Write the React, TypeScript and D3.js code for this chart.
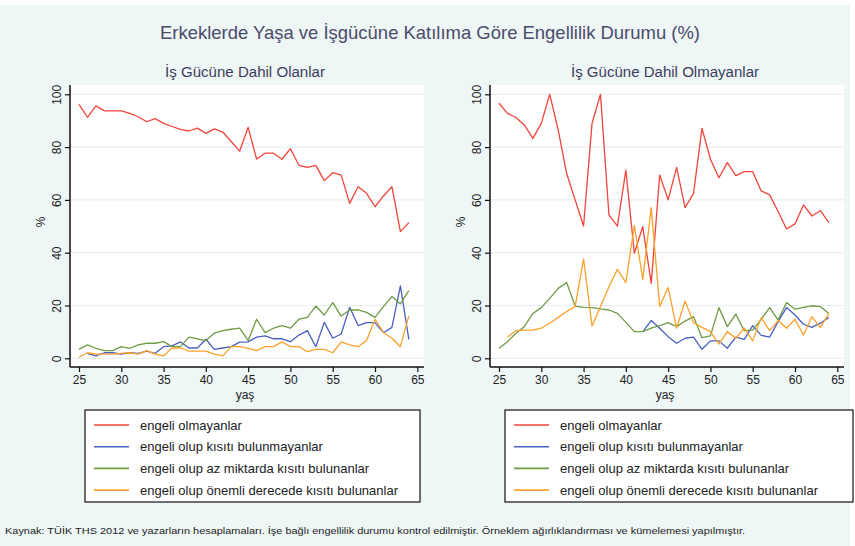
import React, { useEffect, useRef } from 'react';
import * as d3 from 'd3';

const ages = [25, 26, 27, 28, 29, 30, 31, 32, 33, 34, 35, 36, 37, 38, 39, 40, 41, 42, 43, 44,
  45, 46, 47, 48, 49, 50, 51, 52, 53, 54, 55, 56, 57, 58, 59, 60, 61, 62, 63, 64];

const xTicks = [25, 30, 35, 40, 45, 50, 55, 60, 65];
const yTicks = [0, 20, 40, 60, 80, 100];

const seriesLabels = [
  'engeli olmayanlar',
  'engeli olup kısıtı bulunmayanlar',
  'engeli olup az miktarda kısıtı bulunanlar',
  'engeli olup önemli derecede kısıtı bulunanlar'
];
const seriesColors = ['#f2443a', '#4a5fc1', '#6f9c45', '#f9a22b'];

// İş gücüne dahil olanlar
const leftNone = [96.2, 91.3, 95.6, 93.7, 93.7, 93.7, 92.8, 91.5, 89.6, 90.8, 89, 87.8, 86.7, 86.1, 87.2, 85.2,
  86.9, 85.7, 82.1, 78.5, 87.5, 75.5, 77.7, 77.7, 75.4, 79.4, 73.1, 72.3, 73.1, 67.3, 70.3, 69.4, 58.7, 65,
  62.5, 57.4, 61.5, 65, 48, 51.4];
const leftNoLimit = [null, 1.9, 0.9, 2.1, 2.1, 1.6, 2.1, 1.9, 2.7, 1.9, 4.4, 4.7, 6.2, 3.9, 3.9, 7.2, 3.4, 3.9,
  4.4, 6.1, 6.2, 8, 8.5, 7.4, 7.4, 6.3, 8.8, 10.5, 4.4, 13.6, 7.6, 9.2, 19.3, 12.4, 13.5, 13.5, 9.7, 11.7,
  27.4, 7.2];
const leftMild = [3.4, 5.1, 3.8, 2.9, 2.9, 4.4, 3.8, 5.1, 5.7, 5.7, 6.3, 4.4, 4.4, 8, 7.4, 6.7, 9.5, 10.5, 11,
  11.4, 6.7, 14.8, 9.7, 11.4, 12.4, 11.4, 14.8, 15.5, 19.8, 16.4, 21.1, 16, 18.3, 18.3, 17.4, 15.5, 19.6,
  23.4, 20.6, 25.6];
const leftSevere = [0.4, 2.1, 1.6, 1.6, 1.6, 1.9, 2.1, 1.6, 2.9, 1.6, 0.9, 3.9, 3.9, 2.7, 2.7, 2.7, 1.6, 0.9,
  4.4, 4.4, 3.8, 2.9, 4.4, 4.4, 6.2, 4.4, 4.4, 2.5, 3.4, 3.4, 2.1, 6.2, 5.1, 4.4, 6.7, 14.8, 9.8, 7.6, 4.4, 16];

// İş gücüne dahil olmayanlar
const rightNone = [96.6, 92.8, 91.2, 88.4, 83.3, 89, 100, 86.5, 70, 60, 50.1, 89, 100, 54.3, 50.1, 71.3, 39.8,
  49.9, 28.4, 69.4, 60, 72.3, 57.1, 62.5, 87.1, 75.4, 68.4, 74.1, 69.2, 70.7, 70.7, 63.4, 61.9, 55.6, 49,
  50.9, 58.1, 53.9, 55.9, 51.4];
const rightNoLimit = [null, null, null, null, null, null, null, null, null, null, null, null, null, null, null,
  null, null, 10.1, 14.3, 11.4, 8.2, 5.7, 7.6, 8, 3.4, 6.6, 6.6, 3.8, 8, 7.2, 12.4, 8.7, 8, 13.9, 19.2,
  16.4, 12.9, 11.7, 13.3, 15.5];
const rightMild = [3.8, 6.3, 9.5, 12, 17, 19.2, 22.7, 26.5, 28.7, 19.8, 19.3, 19.2, 18.7, 18.3, 17, 13.6,
  10.1, 10.1, 11.4, 12.4, 13.5, 12, 14.1, 15.8, 7.8, 8.5, 19.2, 12, 16.7, 10.5, 10.7, 14.8, 19.2, 14.5,
  21.1, 18.6, 19.3, 19.9, 19.6, 17];
const rightSevere = [null, 8, 10.5, 10.7, 10.7, 11.4, 13.3, 15.5, 17.7, 19.6, 37.6, 12.2, 19.6, 27.1, 33.7,
  28.7, 50.3, 29.9, 57.1, 19.6, 26.8, 11.4, 21.7, 13.5, 11.7, 10.1, 5.4, 10.1, 7.6, 11.4, 6.6, 15.4, 10.5,
  14.3, 11.4, 14.8, 8.8, 15.8, 11.6, 17];

const W = 855;
const H = 546;
const FONT = '"Liberation Sans", Arial, sans-serif';

const panels = [
  { title: 'İş Gücüne Dahil Olanlar', titleW: 160, left: 70, series: [leftNone, leftNoLimit, leftMild, leftSevere] },
  { title: 'İş Gücüne Dahil Olmayanlar', titleW: 188, left: 490, series: [rightNone, rightNoLimit, rightMild, rightSevere] }
];

const App: React.FC = () => {
  const svgRef = useRef<SVGSVGElement>(null);

  useEffect(() => {
    if (!svgRef.current) return;
    const svg = d3.select(svgRef.current);
    svg.selectAll('*').remove();

    svg.append('rect').attr('width', W).attr('height', H).attr('fill', '#ffffff');
    svg.append('rect').attr('x', 0).attr('y', 5).attr('width', 850).attr('height', H - 5)
      .attr('fill', '#eef6f6');

    // main title
    svg.append('text')
      .attr('x', 430).attr('y', 39)
      .attr('text-anchor', 'middle')
      .attr('font-family', FONT)
      .attr('font-size', 19)
      .attr('fill', '#4b4b6b')
      .attr('textLength', 540)
      .attr('lengthAdjust', 'spacingAndGlyphs')
      .text('Erkeklerde Yaşa ve İşgücüne Katılıma Göre Engellilik Durumu (%)');

    const plotW = 354;
    const plotTop = 85;
    const plotBottom = 367;

    panels.forEach(p => {
      const g = svg.append('g');
      const x = d3.scaleLinear().domain([25, 65]).range([p.left + 9, p.left + 347.3]);
      const y = d3.scaleLinear().domain([0, 100]).range([358.3, 94.3]);

      g.append('rect')
        .attr('x', p.left).attr('y', plotTop)
        .attr('width', plotW).attr('height', plotBottom - plotTop)
        .attr('fill', '#ffffff');

      // subtitle
      g.append('text')
        .attr('x', p.left + plotW / 2 - 2).attr('y', 77)
        .attr('text-anchor', 'middle')
        .attr('font-family', FONT)
        .attr('font-size', 14)
        .attr('fill', '#3c3c5c')
        .attr('textLength', p.titleW)
        .attr('lengthAdjust', 'spacingAndGlyphs')
        .text(p.title);

      // grid
      g.append('g')
        .selectAll('line')
        .data(yTicks)
        .enter()
        .append('line')
        .attr('x1', p.left).attr('x2', p.left + plotW)
        .attr('y1', d => y(d)).attr('y2', d => y(d))
        .attr('stroke', '#e6f0f0')
        .attr('stroke-width', 1.2);

      // lines
      const line = d3.line<number | null>()
        .defined(d => d !== null)
        .x((d, i) => x(ages[i]))
        .y(d => y(d as number));

      p.series.forEach((s, k) => {
        g.append('path')
          .datum(s)
          .attr('d', line)
          .attr('fill', 'none')
          .attr('stroke', seriesColors[k])
          .attr('stroke-width', 1.3)
          .attr('stroke-linejoin', 'round');
      });

      // axes
      const xAxis = g.append('g')
        .attr('transform', `translate(0, ${plotBottom})`)
        .call(d3.axisBottom(x).tickValues(xTicks).tickSize(5).tickPadding(3).tickSizeOuter(0));
      xAxis.select('.domain').attr('d', `M${p.left},0H${p.left + plotW}`).attr('stroke', '#111').attr('stroke-width', 1.5);
      xAxis.selectAll('line').attr('stroke', '#111').attr('stroke-width', 1.2);
      xAxis.selectAll('text').attr('font-family', FONT).attr('font-size', 12).attr('fill', '#222');

      const yAxis = g.append('g')
        .attr('transform', `translate(${p.left}, 0)`)
        .call(d3.axisLeft(y).tickValues(yTicks).tickSize(5).tickPadding(3).tickSizeOuter(0));
      yAxis.select('.domain').attr('d', `M0,${plotTop}V${plotBottom}`).attr('stroke', '#111').attr('stroke-width', 1.5);
      yAxis.selectAll('line').attr('stroke', '#111').attr('stroke-width', 1.2);
      yAxis.selectAll('text')
        .attr('font-family', FONT).attr('font-size', 12).attr('fill', '#222')
        .attr('transform', 'rotate(-90)')
        .attr('x', 0).attr('y', -9)
        .attr('dy', 0)
        .attr('text-anchor', 'middle');

      // axis titles
      g.append('text')
        .attr('x', p.left + plotW / 2 - 2).attr('y', 399)
        .attr('text-anchor', 'middle')
        .attr('font-family', FONT).attr('font-size', 12).attr('fill', '#222')
        .text('yaş');
      g.append('text')
        .attr('transform', `translate(${p.left - 25}, 222) rotate(-90)`)
        .attr('text-anchor', 'middle')
        .attr('font-family', FONT).attr('font-size', 12).attr('fill', '#222')
        .text('%');

      // legend
      const lx = p.left + 15;
      const lw = p.left === 70 ? 335 : 348;
      const legend = g.append('g');
      legend.append('rect')
        .attr('x', lx).attr('y', 410)
        .attr('width', lw).attr('height', 92)
        .attr('fill', '#ffffff')
        .attr('stroke', '#111')
        .attr('stroke-width', 1.2);
      seriesLabels.forEach((lab, k) => {
        const ly = 425 + k * 21.7;
        legend.append('line')
          .attr('x1', lx + 9).attr('x2', lx + 44)
          .attr('y1', ly).attr('y2', ly)
          .attr('stroke', seriesColors[k])
          .attr('stroke-width', 1.6);
        legend.append('text')
          .attr('x', lx + 55).attr('y', ly + 4.5)
          .attr('font-family', FONT).attr('font-size', 13).attr('fill', '#222')
          .text(lab);
      });
    });

    svg.append('text')
      .attr('x', 5).attr('y', 534)
      .attr('font-family', FONT).attr('font-size', 9.5).attr('fill', '#222')
      .attr('textLength', 740)
      .attr('lengthAdjust', 'spacingAndGlyphs')
      .text('Kaynak: TÜİK THS 2012 ve yazarların hesaplamaları. İşe bağlı engellilik durumu kontrol edilmiştir. Örneklem ağırlıklandırması ve kümelemesi yapılmıştır.');
  }, []);

  return (
    <svg
      ref={svgRef}
      width={W}
      height={H}
      style={{ display: 'block', position: 'absolute', left: 0, top: 0 }}
    />
  );
};

export default App;
